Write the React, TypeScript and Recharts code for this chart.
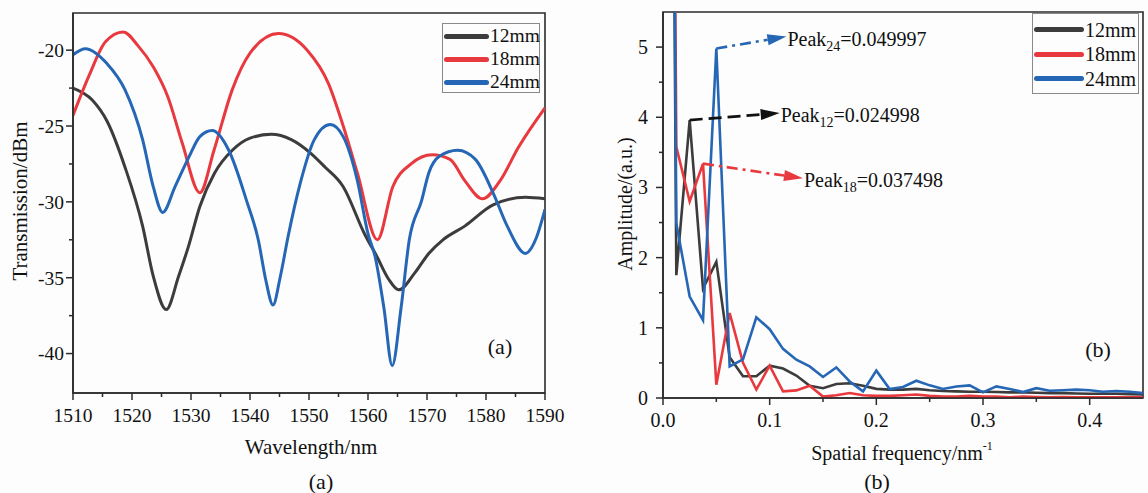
import React from 'react';
import { LineChart, Line, XAxis, YAxis, ReferenceArea, ReferenceLine } from 'recharts';

const FONT = "'Times New Roman', 'Liberation Serif', serif";
const AXIS = '#2b2b2b';
const C12 = '#3c3c3c';
const C18 = '#e8393f';
const C24 = '#2566b5';

/* ---------------- (a) transmission spectra ---------------- */

const wl12 = [1510, 1513.3, 1515.8, 1518.8, 1521.8, 1523.6, 1525.8, 1527.9, 1529.6, 1531.5, 1534, 1537, 1540, 1543.6, 1547, 1550.3, 1552.7, 1555.8, 1559.4, 1561.5, 1563.5, 1565.2, 1567.9, 1570.3, 1572.7, 1576.4, 1581.2, 1586.7, 1590];
const tr12 = [-22.5, -23.3, -24.7, -27.7, -31.6, -34.9, -37.1, -34.9, -32.9, -30.3, -28.1, -26.6, -25.8, -25.55, -25.9, -26.8, -27.7, -29.0, -32.1, -33.6, -35.1, -35.8, -34.7, -33.4, -32.5, -31.6, -30.2, -29.7, -29.8];

const wl18 = [1510, 1512.7, 1515.5, 1518.5, 1521, 1523.6, 1526.1, 1528.5, 1531.5, 1533.9, 1537, 1540, 1544.8, 1549.7, 1553.3, 1555.8, 1558.2, 1561.6, 1564.2, 1567.3, 1570.9, 1573.9, 1576.4, 1579.4, 1582.4, 1585.5, 1590];
const tr18 = [-24.3, -21.7, -19.45, -18.8, -19.7, -21.1, -23.1, -26.1, -29.4, -26.6, -22.6, -20.2, -18.9, -20.0, -22.2, -25.0, -28.1, -32.5, -29.0, -27.5, -26.9, -27.2, -28.6, -29.8, -28.6, -26.4, -23.8];

const wl24 = [1510, 1512.1, 1515.8, 1518.8, 1521.8, 1523.6, 1525.2, 1527.3, 1529.7, 1531.5, 1533.6, 1536.4, 1539.4, 1541.4, 1542.7, 1543.9, 1545.1, 1546.5, 1548.5, 1550.9, 1553.6, 1555.8, 1558.2, 1560, 1561.2, 1562.7, 1564.1, 1565.6, 1567, 1569.1, 1570.3, 1572.1, 1575.2, 1578.2, 1581.2, 1583.6, 1586.7, 1588.5, 1590];
const tr24 = [-20.3, -19.9, -20.9, -22.6, -25.9, -29.0, -30.7, -29.0, -27.0, -25.7, -25.3, -26.6, -29.9, -32.5, -35.2, -36.8, -35.0, -32.2, -28.8, -25.9, -24.9, -25.7, -28.6, -32.1, -33.6, -37.0, -40.8, -37.0, -32.5, -29.9, -28.1, -27.0, -26.6, -27.2, -29.4, -31.6, -33.4, -32.4, -30.5];

const wlTicks = [1510, 1520, 1530, 1540, 1550, 1560, 1570, 1580, 1590];
const wlMinor = [1515, 1525, 1535, 1545, 1555, 1565, 1575, 1585];
const trTicks = [-40, -35, -30, -25, -20];
const trMinor = [-37.5, -32.5, -27.5, -22.5];

/* ---------------- (b) FFT amplitude ---------------- */

const freq = [0, 0.0125, 0.025, 0.0375, 0.05, 0.0625, 0.075, 0.0875, 0.1, 0.1125, 0.125, 0.1375, 0.15, 0.1625, 0.175, 0.1875, 0.2, 0.2125, 0.225, 0.2375, 0.25, 0.2625, 0.275, 0.2875, 0.3, 0.3125, 0.325, 0.3375, 0.35, 0.3625, 0.375, 0.3875, 0.4, 0.4125, 0.425, 0.4375, 0.45];
const amp12 = [30, 1.75, 3.96, 1.56, 1.94, 0.58, 0.31, 0.31, 0.46, 0.42, 0.32, 0.175, 0.14, 0.2, 0.21, 0.175, 0.13, 0.12, 0.12, 0.13, 0.11, 0.1, 0.095, 0.09, 0.09, 0.085, 0.08, 0.08, 0.075, 0.07, 0.07, 0.065, 0.06, 0.06, 0.06, 0.055, 0.05];
const amp18 = [30, 3.58, 2.8, 3.34, 0.19, 1.21, 0.5, 0.12, 0.46, 0.094, 0.108, 0.175, 0.02, 0.04, 0.07, 0.04, 0.03, 0.03, 0.04, 0.05, 0.03, 0.02, 0.02, 0.03, 0.02, 0.02, 0.01, 0.02, 0.015, 0.01, 0.015, 0.01, 0.01, 0.01, 0.01, 0.01, 0.01];
const amp24 = [30, 2.49, 1.445, 1.11, 4.98, 0.45, 0.55, 1.15, 0.98, 0.7, 0.545, 0.45, 0.3, 0.435, 0.236, 0.094, 0.39, 0.128, 0.157, 0.246, 0.18, 0.128, 0.165, 0.18, 0.08, 0.165, 0.128, 0.085, 0.14, 0.104, 0.11, 0.12, 0.11, 0.09, 0.1, 0.09, 0.07];

const fTicks = [0, 0.1, 0.2, 0.3, 0.4];
const fMinor = [0.05, 0.15, 0.25, 0.35];
const aTicks = [0, 1, 2, 3, 4, 5];
const aMinor = [0.5, 1.5, 2.5, 3.5, 4.5];

const seriesNames = ['12mm', '18mm', '24mm'];
const seriesColors = [C12, C18, C24];

// peak annotations: index of the peak in each series, label, arrow tip (data units)
const peakNotes = [
  { amp: amp24, idx: 4, sub: '24', text: '0.049997', tip: [0.1157, 5.15], color: C24, dash: '11 5 3 5' },
  { amp: amp12, idx: 2, sub: '12', text: '0.024998', tip: [0.1094, 4.06], color: '#111', dash: '13 6' },
  { amp: amp18, idx: 3, sub: '18', text: '0.037498', tip: [0.1312, 3.13], color: C18, dash: '11 5 3 5' },
];

const spec12 = wl12.map((x, i) => ({ x, y: tr12[i] }));
const spec18 = wl18.map((x, i) => ({ x, y: tr18[i] }));
const spec24 = wl24.map((x, i) => ({ x, y: tr24[i] }));
const fftRows = freq.map((f, i) => ({ f, a12: amp12[i], a18: amp18[i], a24: amp24[i] }));

/* ---------------- helpers ---------------- */

function bottomTick(majors: number[], fmt: (v: number) => string, fontSize: number) {
  return (p: any) => {
    const v = p.payload.value;
    const major = majors.includes(v);
    return (
      <g>
        <line x1={p.x} y1={p.y} x2={p.x} y2={p.y + (major ? 7 : 4)} stroke={AXIS} strokeWidth={1.5} />
        {major && (
          <text x={p.x} y={p.y + 29} textAnchor="middle" fontSize={fontSize} fontFamily={FONT} fill="#111">
            {fmt(v)}
          </text>
        )}
      </g>
    );
  };
}

function leftTick(majors: number[], fontSize: number, gap: number) {
  return (p: any) => {
    const v = p.payload.value;
    const major = majors.includes(v);
    return (
      <g>
        <line x1={p.x - (major ? 7 : 4)} y1={p.y} x2={p.x} y2={p.y} stroke={AXIS} strokeWidth={1.5} />
        {major && (
          <text x={p.x - gap} y={p.y} dy="0.35em" textAnchor="end" fontSize={fontSize} fontFamily={FONT} fill="#111">
            {String(v)}
          </text>
        )}
      </g>
    );
  };
}

function PeakArrow(props: any) {
  const { x1, y1, x2, y2, note } = props;
  const ang = Math.atan2(y2 - y1, x2 - x1);
  const len = 19;
  const half = 5.5;
  const cx = Math.cos(ang);
  const sy = Math.sin(ang);
  const bx = x2 - len * cx;
  const by = y2 - len * sy;
  const pts = `${x2},${y2} ${bx - half * sy},${by + half * cx} ${bx + half * sy},${by - half * cx}`;
  return (
    <g>
      <line x1={x1} y1={y1} x2={bx} y2={by} stroke={note.color} strokeWidth={2.6} strokeDasharray={note.dash} />
      <polygon points={pts} fill={note.color} />
      <text x={x2 + 1} y={y2 + 9} fontSize={20} fontFamily={FONT} fill="#111">
        Peak
        <tspan dy={5} fontSize={14}>{note.sub}</tspan>
        <tspan dy={-5} fontSize={20}>={note.text}</tspan>
      </text>
    </g>
  );
}

const abs = (left: number, top: number, extra: React.CSSProperties = {}): React.CSSProperties => ({
  position: 'absolute',
  left,
  top,
  whiteSpace: 'nowrap',
  lineHeight: 1,
  color: '#111',
  ...extra,
});

function LegendBox({ left, top, width, rowH, pad, lineW, fontSize }: any) {
  return (
    <div style={abs(left, top, { width, height: pad * 2 + rowH * 3, border: '1px solid #8a8a8a', boxSizing: 'border-box' })}>
      {seriesNames.map((n, i) => (
        <div key={n} style={abs(0, pad + rowH * i, { height: rowH, width })}>
          <div style={abs(1, rowH / 2 - 2.5, { width: lineW, height: 5, borderRadius: 2.5, background: seriesColors[i] })} />
          <div style={abs(lineW + 2, rowH / 2, { fontSize, transform: 'translateY(-50%)' })}>{n}</div>
        </div>
      ))}
    </div>
  );
}

const centered = (x: number, y: number, fontSize: number, rotate = 0): React.CSSProperties =>
  abs(x, y, { fontSize, transform: `translate(-50%, -50%) rotate(${rotate}deg)` });

export default function App() {
  return (
    <div
      style={{
        position: 'absolute',
        left: 0,
        top: 0,
        width: 1148,
        height: 493,
        background: '#fdfdfd',
        fontFamily: FONT,
        overflow: 'hidden',
      }}
    >
      {/* (a) */}
      <div style={{ position: 'absolute', left: 0, top: 0 }}>
        <LineChart width={575} height={493} margin={{ top: 13, right: 30, bottom: 60, left: 10 }}>
          <XAxis
            dataKey="x"
            type="number"
            domain={[1510, 1590]}
            ticks={[...wlTicks, ...wlMinor].sort((a, b) => a - b)}
            interval={0}
            allowDataOverflow
            height={40}
            tickSize={0}
            tickMargin={0}
            tickLine={false}
            tick={bottomTick(wlTicks, (v) => String(v), 19.5)}
            axisLine={{ stroke: AXIS, strokeWidth: 1.6 }}
          />
          <YAxis
            type="number"
            domain={[-42.6, -17.55]}
            ticks={[...trTicks, ...trMinor].sort((a, b) => a - b)}
            interval={0}
            allowDataOverflow
            width={63}
            tickSize={0}
            tickMargin={0}
            tickLine={false}
            tick={leftTick(trTicks, 19.5, 9)}
            axisLine={{ stroke: AXIS, strokeWidth: 1.6 }}
          />
          <ReferenceArea x1={1510} x2={1590} y1={-42.6} y2={-17.55} fill="none" stroke={AXIS} strokeWidth={1.6} />
          <Line data={spec12} dataKey="y" type="monotone" stroke={C12} strokeWidth={3} dot={false} activeDot={false} isAnimationActive={false} />
          <Line data={spec18} dataKey="y" type="monotone" stroke={C18} strokeWidth={3} dot={false} activeDot={false} isAnimationActive={false} />
          <Line data={spec24} dataKey="y" type="monotone" stroke={C24} strokeWidth={3} dot={false} activeDot={false} isAnimationActive={false} />
        </LineChart>
      </div>

      {/* (b) */}
      <div style={{ position: 'absolute', left: 580, top: 0 }}>
        <LineChart width={568} height={493} data={fftRows} margin={{ top: 12, right: 5, bottom: 55, left: 23 }}>
          <XAxis
            dataKey="f"
            type="number"
            domain={[0, 0.45]}
            ticks={[...fTicks, ...fMinor].sort((a, b) => a - b)}
            interval={0}
            allowDataOverflow
            height={40}
            tickSize={0}
            tickMargin={0}
            tickLine={false}
            tick={bottomTick(fTicks, (v) => v.toFixed(1), 20)}
            axisLine={{ stroke: AXIS, strokeWidth: 1.6 }}
          />
          <YAxis
            type="number"
            domain={[0, 5.5]}
            ticks={[...aTicks, ...aMinor].sort((a, b) => a - b)}
            interval={0}
            allowDataOverflow
            width={60}
            tickSize={0}
            tickMargin={0}
            tickLine={false}
            tick={leftTick(aTicks, 20, 15)}
            axisLine={{ stroke: AXIS, strokeWidth: 1.6 }}
          />
          <ReferenceArea x1={0} x2={0.45} y1={0} y2={5.5} fill="none" stroke={AXIS} strokeWidth={1.6} />
          <Line dataKey="a12" type="linear" stroke={C12} strokeWidth={2.6} dot={false} activeDot={false} isAnimationActive={false} />
          <Line dataKey="a18" type="linear" stroke={C18} strokeWidth={2.6} dot={false} activeDot={false} isAnimationActive={false} />
          <Line dataKey="a24" type="linear" stroke={C24} strokeWidth={2.6} dot={false} activeDot={false} isAnimationActive={false} />
          {peakNotes.map((n) => (
            <ReferenceLine
              key={n.sub}
              ifOverflow="visible"
              segment={[
                { x: freq[n.idx], y: n.amp[n.idx] },
                { x: n.tip[0], y: n.tip[1] },
              ]}
              shape={(p: any) => <PeakArrow {...p} note={n} />}
            />
          ))}
        </LineChart>
      </div>

      {/* legends */}
      <LegendBox left={442} top={23} width={98} rowH={23} pad={0.5} lineW={45} fontSize={19.5} />
      <LegendBox left={1032} top={13} width={107} rowH={24.5} pad={3.5} lineW={50} fontSize={20} />

      {/* titles and labels */}
      <div style={centered(20, 201, 21, -90)}>Transmission/dBm</div>
      <div style={centered(311, 447, 21)}>Wavelength/nm</div>
      <div style={centered(500, 347, 22)}>(a)</div>
      <div style={centered(321, 482, 22)}>(a)</div>

      <div style={centered(625, 204, 20, -90)}>Amplitude/(a.u.)</div>
      <div style={centered(902, 453, 20)}>
        Spatial frequency/nm<sup style={{ fontSize: 12, verticalAlign: 'top', position: 'relative', top: -3 }}>-1</sup>
      </div>
      <div style={centered(1098, 350, 22)}>(b)</div>
      <div style={centered(877, 482, 22)}>(b)</div>
    </div>
  );
}
